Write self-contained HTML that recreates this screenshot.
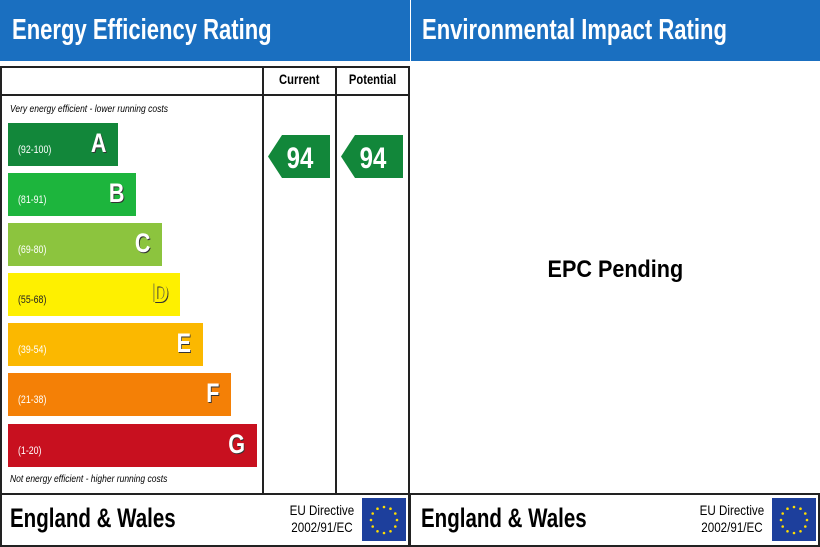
<!DOCTYPE html>
<html><head><meta charset="utf-8"><style>
*{margin:0;padding:0;box-sizing:border-box}
body{width:820px;height:547px;background:#fff;position:relative;overflow:hidden;font-family:"Liberation Sans",sans-serif}
.a{position:absolute}
.n{display:inline-block;transform:scaleX(.76);transform-origin:left center;white-space:nowrap}
.c{display:inline-block;transform:scaleX(.8);transform-origin:center;white-space:nowrap}
.hd{background:#1a6fc0;color:#fff;font-weight:bold;font-size:29px;line-height:61px;top:0;height:61px;overflow:hidden}
.bar{position:absolute;left:8px;height:43px;color:#fff}
.bar .r{position:absolute;left:10px;top:21px;font-size:11px;transform:scaleX(.8);transform-origin:left}
.bar .l{position:absolute;right:12px;top:5px;font-size:27px;font-weight:bold;text-shadow:1px 1px 0 #333;transform:scaleX(.8);transform-origin:right}
.box{border:2px solid #222}
.eu{font-size:14px;text-align:center;line-height:17px}
.flag{width:44px;height:43px;background:#1d3f9c}
</style></head><body>
<div class="a hd" style="left:0;width:410px;padding-left:12px"><span class="n">Energy Efficiency Rating</span></div>
<div class="a hd" style="left:411px;width:409px;padding-left:11px"><span class="n">Environmental Impact Rating</span></div>

<div class="a box" style="left:0;top:66px;width:410px;height:429px"></div>
<div class="a" style="left:0;top:94px;width:410px;height:2px;background:#222"></div>
<div class="a" style="left:262px;top:66px;width:2px;height:429px;background:#222"></div>
<div class="a" style="left:335px;top:66px;width:2px;height:429px;background:#222"></div>
<div class="a" style="left:264px;top:71px;width:71px;text-align:center;font-weight:bold;font-size:14px"><span class="c">Current</span></div>
<div class="a" style="left:337px;top:71px;width:71px;text-align:center;font-weight:bold;font-size:14px"><span class="c">Potential</span></div>
<div class="a" style="left:10px;top:104px;font-size:10px;font-style:italic"><span class="n" style="transform:scaleX(.85)">Very energy efficient - lower running costs</span></div>
<div class="a" style="left:10px;top:474px;font-size:10px;font-style:italic"><span class="n" style="transform:scaleX(.85)">Not energy efficient - higher running costs</span></div>

<div class="bar" style="top:123px;width:110px;background:#12873a"><span class="r">(92-100)</span><span class="l">A</span></div>
<div class="bar" style="top:173px;width:128px;background:#1db53d"><span class="r">(81-91)</span><span class="l">B</span></div>
<div class="bar" style="top:223px;width:154px;background:#8cc43e"><span class="r">(69-80)</span><span class="l">C</span></div>
<div class="bar" style="top:273px;width:172px;background:#fef000;color:#222"><span class="r">(55-68)</span><span class="l" style="color:#fef000;text-shadow:1px 1px 0 #333,-1px 0 0 #555">D</span></div>
<div class="bar" style="top:323px;width:195px;background:#fbb800"><span class="r">(39-54)</span><span class="l">E</span></div>
<div class="bar" style="top:373px;width:223px;background:#f48006"><span class="r">(21-38)</span><span class="l">F</span></div>
<div class="bar" style="top:424px;width:249px;background:#c8101f"><span class="r">(1-20)</span><span class="l">G</span></div>

<svg class="a" style="left:268px;top:135px" width="62" height="43"><polygon points="0,21.5 14,0 62,0 62,43 14,43" fill="#12873a"/><text x="32" y="33" font-family="Liberation Sans,sans-serif" font-weight="bold" font-size="30" fill="#fff" text-anchor="middle" transform="translate(32 0) scale(.8 1) translate(-32 0)">94</text></svg>
<svg class="a" style="left:341px;top:135px" width="62" height="43"><polygon points="0,21.5 14,0 62,0 62,43 14,43" fill="#12873a"/><text x="32" y="33" font-family="Liberation Sans,sans-serif" font-weight="bold" font-size="30" fill="#fff" text-anchor="middle" transform="translate(32 0) scale(.8 1) translate(-32 0)">94</text></svg>

<div class="a" style="left:411px;top:256px;width:409px;text-align:center;font-weight:bold;font-size:24px"><span class="c" style="transform:scaleX(.9)">EPC Pending</span></div>

<div class="a box" style="left:0;top:493px;width:410px;height:54px"></div>
<div class="a" style="left:10px;top:503px;font-weight:bold;font-size:27px"><span class="n">England &amp; Wales</span></div>
<div class="a eu" style="left:282px;top:502px;width:80px"><span class="c" style="transform:scaleX(.83)">EU Directive</span><br><span class="c" style="transform:scaleX(.83)">2002/91/EC</span></div>
<svg class="a flag" style="left:362px;top:498px" width="44" height="43"><g fill="#ffdd00"><circle cx="22" cy="9" r="1.3"/><circle cx="28.5" cy="10.7" r="1.3"/><circle cx="33.3" cy="15.5" r="1.3"/><circle cx="35" cy="22" r="1.3"/><circle cx="33.3" cy="28.5" r="1.3"/><circle cx="28.5" cy="33.3" r="1.3"/><circle cx="22" cy="35" r="1.3"/><circle cx="15.5" cy="33.3" r="1.3"/><circle cx="10.7" cy="28.5" r="1.3"/><circle cx="9" cy="22" r="1.3"/><circle cx="10.7" cy="15.5" r="1.3"/><circle cx="15.5" cy="10.7" r="1.3"/></g></svg>
<div class="a box" style="left:409px;top:493px;width:411px;height:54px"></div>
<div class="a" style="left:421px;top:503px;font-weight:bold;font-size:27px"><span class="n">England &amp; Wales</span></div>
<div class="a eu" style="left:692px;top:502px;width:80px"><span class="c" style="transform:scaleX(.83)">EU Directive</span><br><span class="c" style="transform:scaleX(.83)">2002/91/EC</span></div>
<svg class="a flag" style="left:772px;top:498px" width="44" height="43"><g fill="#ffdd00"><circle cx="22" cy="9" r="1.3"/><circle cx="28.5" cy="10.7" r="1.3"/><circle cx="33.3" cy="15.5" r="1.3"/><circle cx="35" cy="22" r="1.3"/><circle cx="33.3" cy="28.5" r="1.3"/><circle cx="28.5" cy="33.3" r="1.3"/><circle cx="22" cy="35" r="1.3"/><circle cx="15.5" cy="33.3" r="1.3"/><circle cx="10.7" cy="28.5" r="1.3"/><circle cx="9" cy="22" r="1.3"/><circle cx="10.7" cy="15.5" r="1.3"/><circle cx="15.5" cy="10.7" r="1.3"/></g></svg>
</body></html>
